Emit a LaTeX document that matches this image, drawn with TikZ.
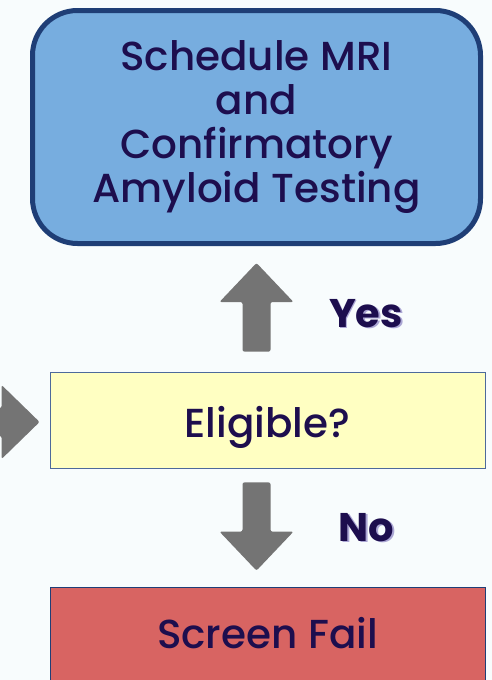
\documentclass[tikz,border=0pt]{standalone}
\usepackage{fontspec}
\setmainfont{Poppins}[UprightFont={* Medium}, BoldFont={* Bold}]
\usetikzlibrary{calc}

\definecolor{pagebg}{HTML}{F8FCFD}
\definecolor{inkblue}{HTML}{1D0E4E}
\definecolor{mrifill}{HTML}{77ADDF}
\definecolor{mriline}{HTML}{1F3E76}
\definecolor{eligfill}{HTML}{FFFFC2}
\definecolor{eligline}{HTML}{4D6A9B}
\definecolor{failfill}{HTML}{D86462}
\definecolor{arrowgray}{HTML}{747474}
\definecolor{shadowpurple}{HTML}{ABA6D4}

\newcommand{\shadowed}[1]{\rlap{\raisebox{-1.5pt}{\hspace{1.5pt}\textcolor{shadowpurple}{#1}}}#1}

\begin{document}
\begin{tikzpicture}[x=1pt, y=-1pt,
  every node/.style={text=inkblue},
  mribox/.style={draw=mriline, fill=mrifill, line width=5pt, rounded corners=45pt,
    minimum width=448pt, minimum height=233pt, align=center,
    font=\fontsize{40.5}{44.3}\selectfont},
  flatbox/.style={draw=eligline, line width=0.8pt, minimum width=435pt,
    font=\fontsize{40.5}{44}\selectfont},
  answer/.style={font=\fontsize{40}{44}\selectfont\bfseries},
  blockarrow/.style={fill=arrowgray, rounded corners=2pt}]

\fill[pagebg] (0,0) rectangle (492,680);
\useasboundingbox (0,0) rectangle (492,680);

% boxes
\node[mribox] (mri) at (256.5,127) {Schedule MRI\\and\\Confirmatory\\Amyloid Testing};
\node[flatbox, fill=eligfill, minimum height=96pt, text height=34pt, text depth=0pt] (elig) at (267.5,420) {Eligible?};
\node[flatbox, fill=failfill, draw=mriline, minimum height=110pt, text height=20pt, text depth=8pt] (fail) at (267.5,642) {Screen Fail};

% answers
\node[answer] (yes) at (366,314) {\shadowed{Yes}};
\node[answer] (no) at (366.5,528) {\shadowed{No}};

% arrow ends
\coordinate (upbase) at ([yshift=20pt]elig.north -| mri.south);
\coordinate (uptip) at ([yshift=-17pt]mri.south);
\coordinate (downbase) at ([yshift=-14pt]elig.south -| mri.south);
\coordinate (downtip) at ([yshift=16pt]fail.north -| mri.south);
\coordinate (intail) at (-80,422);
\coordinate (intip) at ([xshift=-10pt,yshift=-2pt]elig.west);

\fill[blockarrow] let \p1=(upbase), \p2=(uptip) in
  (\x1-14,\y1) -- (\x1+14,\y1) -- (\x1+14,\y2-39) -- (\x1+37,\y2-39) -- (\p2)
  -- (\x1-37,\y2-39) -- (\x1-14,\y2-39) -- cycle;
\fill[blockarrow] let \p1=(downbase), \p2=(downtip) in
  (\x1-14,\y1) -- (\x1+14,\y1) -- (\x1+14,\y2+39) -- (\x1+37,\y2+39) -- (\p2)
  -- (\x1-37,\y2+39) -- (\x1-14,\y2+39) -- cycle;
\fill[blockarrow] let \p1=(intail), \p2=(intip) in
  (\x1,\y1-14) -- (\x1,\y1+14) -- (\x2-38,\y1+14) -- (\x2-38,\y1+37) -- (\p2)
  -- (\x2-38,\y1-37) -- (\x2-38,\y1-14) -- cycle;
\end{tikzpicture}
\end{document}
